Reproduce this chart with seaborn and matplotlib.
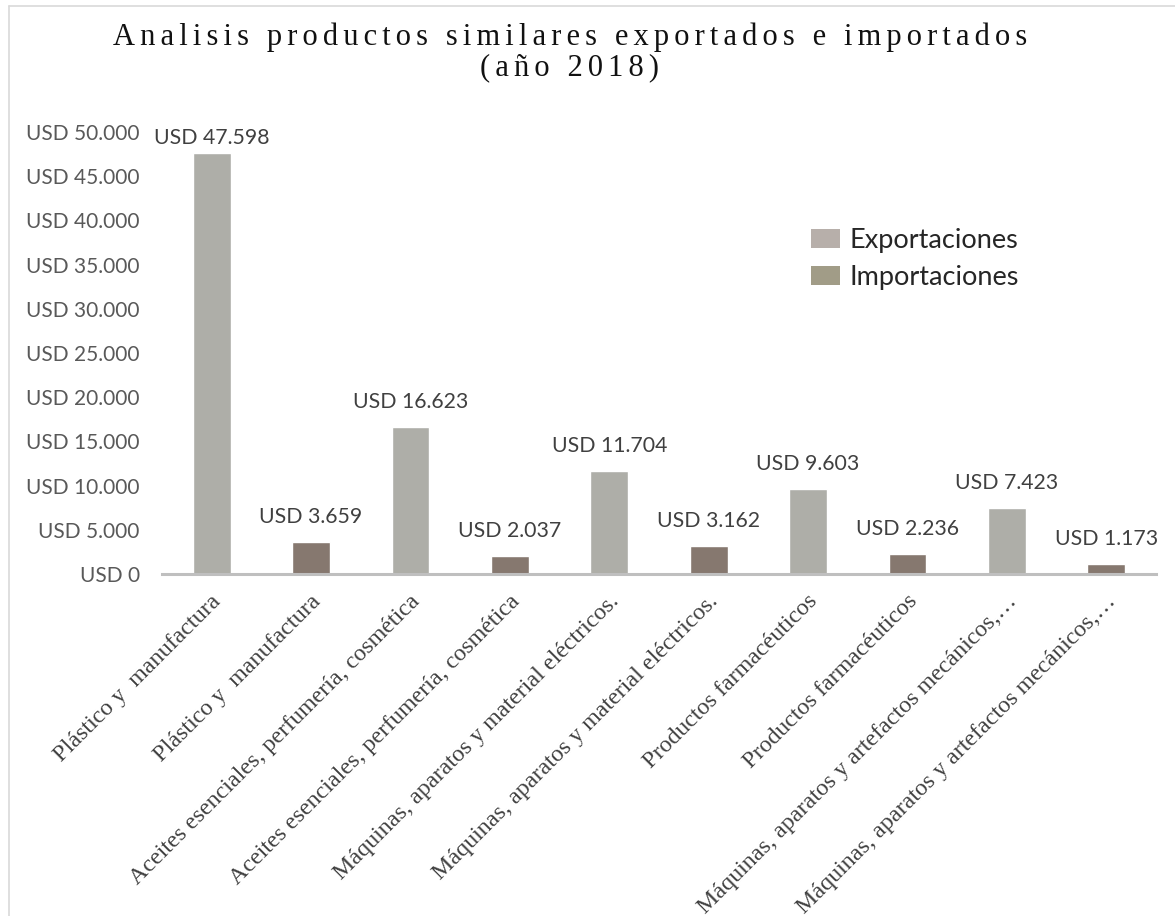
import numpy as np
import pandas as pd
import seaborn as sns
import matplotlib
matplotlib.use("Agg")
import matplotlib.pyplot as plt
from matplotlib.patches import Patch
from matplotlib.lines import Line2D
from matplotlib.transforms import ScaledTranslation

categories = [
    "Plástico y  manufactura",
    "Plástico y  manufactura",
    "Aceites esenciales, perfumería, cosmética",
    "Aceites esenciales, perfumería, cosmética",
    "Máquinas, aparatos y material eléctricos.",
    "Máquinas, aparatos y material eléctricos.",
    "Productos farmacéuticos",
    "Productos farmacéuticos",
    "Máquinas, aparatos y artefactos mecánicos,…",
    "Máquinas, aparatos y artefactos mecánicos,…",
]
flows = ["Exportaciones", "Importaciones"] * 5
values = [47598, 3659, 16623, 2037, 11704, 3162, 9603, 2236, 7423, 1173]
yticks = [0, 5000, 10000, 15000, 20000, 25000, 30000, 35000, 40000, 45000, 50000]
legend_labels = ["Exportaciones", "Importaciones"]

def usd(v):
    return "USD " + f"{v:,}".replace(",", ".")

sns.set_theme(style="white")
plt.rcParams['font.family'] = ['Lato', 'DejaVu Sans']

W, H = 1175, 916
fig = plt.figure(figsize=(W / 100, H / 100), dpi=100)
fig.patch.set_facecolor("white")
ax = fig.add_axes([162 / W, (H - 574) / H, (1156 - 162) / W, (574 - 132) / H])

df = pd.DataFrame({"pos": [str(i) for i in range(len(values))],
                   "flow": flows, "value": values})
sns.barplot(data=df, x="pos", y="value", hue="flow",
            palette={"Exportaciones": "#AEAEA8", "Importaciones": "#86786F"},
            dodge=False, width=0.38, saturation=1, legend=False, ax=ax)

ax.set_xlim(-0.5, len(values) - 0.5)
ax.set_ylim(0, 50000)
ax.set_yticks(yticks)
ax.set_yticklabels([usd(v) for v in yticks], fontsize=15, color="#595959")
ax.set_xticks(range(len(values)))
ax.set_xticklabels(categories, rotation=45, ha="right", rotation_mode="anchor",
                   fontfamily="Liberation Serif", fontsize=17.3, color="#404040")
ax.tick_params(axis="y", length=0, pad=16)
ax.tick_params(axis="x", length=0, pad=12)
shift = ScaledTranslation(-1 / 100, 0, fig.dpi_scale_trans)
for lab in ax.get_xticklabels():
    lab.set_transform(lab.get_transform() + shift)
ax.set_xlabel("")
ax.set_ylabel("")
for s in ["top", "right", "left"]:
    ax.spines[s].set_visible(False)
ax.spines["bottom"].set_color("#BFBFBF")
ax.spines["bottom"].set_linewidth(2.2)
ax.grid(False)

for i, v in enumerate(values):
    ax.text(i, min(v + 2830, 49300), usd(v), ha="center", va="center",
            fontsize=15.3, color="#404040")

def spaced(s):
    return "\u2006".join(list(s))

tfam = ["Liberation Serif", "DejaVu Serif"]
fig.text(570 / W, 1 - 37 / H, spaced("Analisis productos similares exportados e importados"),
         ha="center", va="center", fontfamily=tfam, fontsize=22, color="#111111")
fig.text(570 / W, 1 - 68 / H, spaced("(año 2018)"),
         ha="center", va="center", fontfamily=tfam, fontsize=22, color="#111111")

handles = [Patch(facecolor="#B7AFAA", edgecolor="none"),
           Patch(facecolor="#A19C87", edgecolor="none")]
fig.legend(handles, legend_labels, loc="upper left",
           bbox_to_anchor=(811 / W, 1 - 228 / H), frameon=False, fontsize=19.5,
           handlelength=1.07, handleheight=0.67, handletextpad=0.35,
           labelspacing=0.45, borderpad=0, borderaxespad=0)

fig.add_artist(Line2D([9 / W, 1], [1 - 6 / H, 1 - 6 / H], color="#D9D9D9", lw=1.2))
fig.add_artist(Line2D([9 / W, 9 / W], [0, 1 - 6 / H], color="#D9D9D9", lw=1.2))

fig.savefig("out.png", dpi=100, facecolor="white")
